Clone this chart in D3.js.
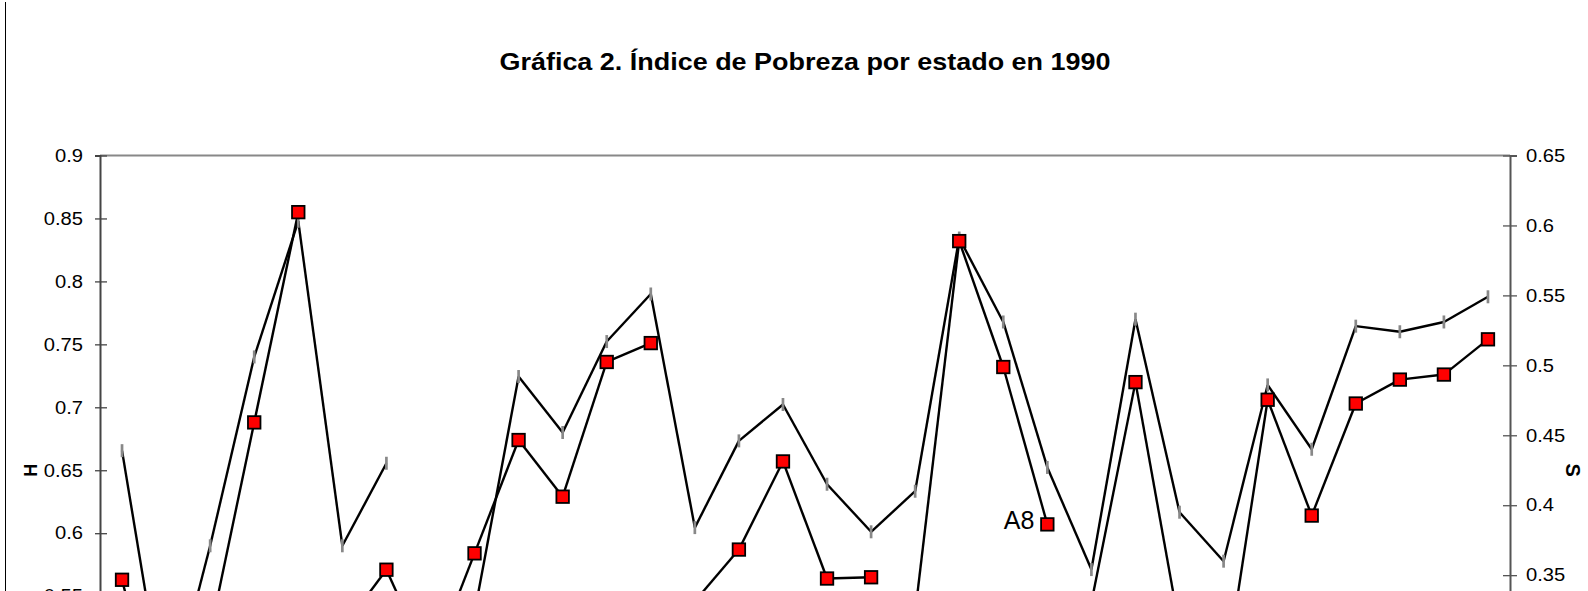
<!DOCTYPE html>
<html>
<head>
<meta charset="utf-8">
<script src="https://cdn.jsdelivr.net/npm/d3@7"></script>
<style>
  body { margin: 0; overflow: hidden; background: #fff; }
  text { font-family: "Liberation Sans", Arial, sans-serif; }
</style>
</head>
<body>
<div id="chart"></div>
<script>
// states 1..32 (their labels sit below the visible window)
var categories = d3.range(1, 33).map(String);

// H (left axis, red squares)
var hValues = [0.563, 0.425, 0.521, 0.688, 0.855, 0.524, 0.571, 0.494,
               0.584, 0.674, 0.629, 0.736, 0.751, 0.546, 0.587, 0.657,
               0.564, 0.565, 0.537, 0.832, 0.732, 0.607, 0.545, 0.720,
               0.525, 0.478, 0.706, 0.614, 0.703, 0.722, 0.726, 0.754];
// no line drawn from these points to the next one
var hBreaks = [4, 12, 17, 21];

// S (right axis, grey dash markers)
var sValues = [0.439, 0.249, 0.371, 0.506, 0.603, 0.371, 0.430, null,
               0.323, 0.492, 0.452, 0.517, 0.551, 0.384, 0.446, 0.472,
               0.415, 0.381, 0.410, 0.591, 0.531, 0.427, 0.354, 0.533,
               0.395, 0.360, 0.486, 0.440, 0.528, 0.524, 0.531, 0.549];

var hTicks = [0.4, 0.45, 0.5, 0.55, 0.6, 0.65, 0.7, 0.75, 0.8, 0.85, 0.9];
var sTicks = [0.2, 0.25, 0.3, 0.35, 0.4, 0.45, 0.5, 0.55, 0.6, 0.65];
var pointLabels = [{index: 21, text: "A8"}];
var title = "Gráfica 2. Índice de Pobreza por estado en 1990";

var width = 1588, height = 880;
var margin = {top: 155.5, right: 78, bottom: 95, left: 100};
var innerW = width - margin.left - margin.right,
    innerH = height - margin.top - margin.bottom;

var svg = d3.select("#chart").append("svg")
    .attr("width", width)
    .attr("height", height);

// outer frame edge on the left
svg.append("line")
    .attr("x1", 5.5).attr("x2", 5.5)
    .attr("y1", 2).attr("y2", height)
    .attr("stroke", "#000").attr("stroke-width", 1);

function stretch(sel, k) {
    sel.each(function() {
        var w = this.getComputedTextLength();
        d3.select(this).attr("textLength", w * k).attr("lengthAdjust", "spacingAndGlyphs");
    });
}

// title
svg.append("text")
    .attr("x", 805)
    .attr("y", 70)
    .attr("text-anchor", "middle")
    .style("font-size", "24px")
    .style("font-weight", "bold")
    .attr("textLength", 611)
    .attr("lengthAdjust", "spacingAndGlyphs")
    .text(title);

var g = svg.append("g")
    .attr("transform", "translate(" + margin.left + "," + margin.top + ")");

var x = d3.scaleBand().domain(categories).range([0, innerW]).padding(0);
var yH = d3.scaleLinear().domain([0.4, 0.9]).range([innerH, 0]);
var yS = d3.scaleLinear().domain([0.2, 0.65]).range([innerH, 0]);
function cx(i) { return x(categories[i]) + x.bandwidth() / 2; }

// top border of the plot
g.append("line")
    .attr("x1", 0).attr("x2", innerW)
    .attr("y1", 0).attr("y2", 0)
    .attr("stroke", "#888").attr("stroke-width", 2);

// left axis
var axL = g.append("g")
    .call(d3.axisLeft(yH).tickValues(hTicks).tickSize(5).tickPadding(12)
          .tickFormat(function(d) { return +d.toFixed(2); }));
axL.select(".domain").attr("stroke", "#444").attr("stroke-width", 2);
axL.selectAll(".tick line").attr("x1", 7).attr("stroke", "#444").attr("stroke-width", 1.3);
axL.selectAll(".tick text").style("font-size", "18px").attr("fill", "#000");
stretch(axL.selectAll(".tick text"), 1.12);

// right axis
var axR = g.append("g")
    .attr("transform", "translate(" + innerW + ",0)")
    .call(d3.axisRight(yS).tickValues(sTicks).tickSize(7).tickPadding(9)
          .tickFormat(function(d) { return +d.toFixed(2); }));
axR.select(".domain").attr("stroke", "#555").attr("stroke-width", 2);
axR.selectAll(".tick line").attr("x1", -7).attr("stroke", "#555").attr("stroke-width", 1.3);
axR.selectAll(".tick text").style("font-size", "18px").attr("fill", "#000");
stretch(axR.selectAll(".tick text"), 1.12);

// bottom axis line (falls below the visible window)
var axB = g.append("g")
    .attr("transform", "translate(0," + innerH + ")")
    .call(d3.axisBottom(x).tickSize(0).tickFormat(""));
axB.select(".domain").attr("stroke", "#444").attr("stroke-width", 2);

// axis titles
svg.append("text")
    .attr("transform", "translate(37," + (margin.top + innerH / 2) + ") rotate(-90)")
    .attr("text-anchor", "middle")
    .style("font-size", "18px").style("font-weight", "bold")
    .text("H");
svg.append("text")
    .attr("transform", "translate(1566," + (margin.top + innerH / 2) + ") rotate(90)")
    .attr("text-anchor", "middle")
    .style("font-size", "20px").style("font-weight", "bold")
    .text("S");

// line segments between consecutive points
function segments(values, breaks) {
    var out = [];
    for (var i = 0; i < values.length - 1; i++) {
        if (values[i] == null || values[i + 1] == null) continue;
        if (breaks.indexOf(i) >= 0) continue;
        out.push([i, i + 1]);
    }
    return out;
}

var lineS = d3.line().x(function(i) { return cx(i); }).y(function(i) { return yS(sValues[i]); });
var lineH = d3.line().x(function(i) { return cx(i); }).y(function(i) { return yH(hValues[i]); });

g.selectAll(".segS")
    .data(segments(sValues, []))
    .enter().append("path")
    .attr("class", "segS")
    .attr("d", lineS)
    .attr("fill", "none").attr("stroke", "#000").attr("stroke-width", 2.4);

g.selectAll(".segH")
    .data(segments(hValues, hBreaks))
    .enter().append("path")
    .attr("class", "segH")
    .attr("d", lineH)
    .attr("fill", "none").attr("stroke", "#000").attr("stroke-width", 2.4);

// S markers: short grey dashes
g.selectAll(".mS")
    .data(sValues.map(function(v, i) { return {i: i, v: v}; }).filter(function(d) { return d.v != null; }))
    .enter().append("line")
    .attr("class", "mS")
    .attr("x1", function(d) { return cx(d.i); })
    .attr("x2", function(d) { return cx(d.i); })
    .attr("y1", function(d) { return yS(d.v) - 6.5; })
    .attr("y2", function(d) { return yS(d.v) + 6.5; })
    .attr("stroke", "#888").attr("stroke-width", 2.7);

// H markers: red squares
var sq = 12.5;
g.selectAll(".mH")
    .data(hValues.map(function(v, i) { return {i: i, v: v}; }))
    .enter().append("rect")
    .attr("class", "mH")
    .attr("x", function(d) { return cx(d.i) - sq / 2; })
    .attr("y", function(d) { return yH(d.v) - sq / 2; })
    .attr("width", sq).attr("height", sq)
    .attr("fill", "#ff0000").attr("stroke", "#000").attr("stroke-width", 1.8);

// data label
g.selectAll(".plabel")
    .data(pointLabels)
    .enter().append("text")
    .attr("class", "plabel")
    .attr("x", function(d) { return cx(d.index) - 13; })
    .attr("y", function(d) { return yH(hValues[d.index]) + 5; })
    .attr("text-anchor", "end")
    .style("font-size", "25px")
    .text(function(d) { return d.text; });
</script>
</body>
</html>
